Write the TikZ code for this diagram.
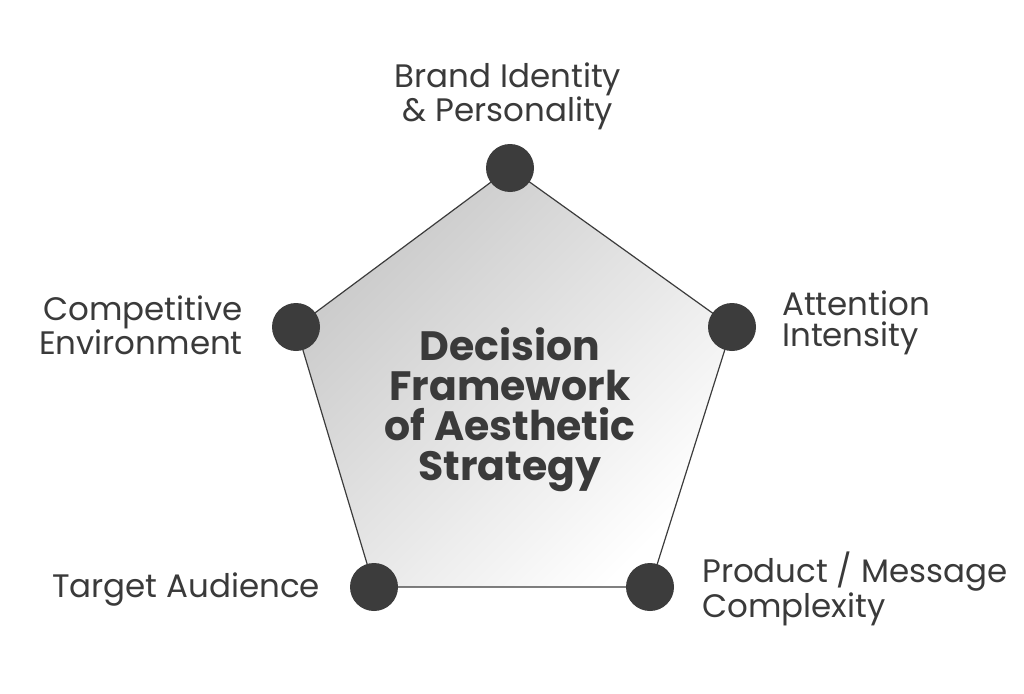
\documentclass[tikz,border=0pt]{standalone}
\usepackage{fontspec}
\setmainfont{Poppins}
\begin{document}
\begin{tikzpicture}[x=1pt,y=-1pt,
  vtx/.style={circle,fill=dotc,minimum size=48pt,inner sep=0pt},
  lbl/.style={text=txtc,font=\fontsize{32.5}{31}\selectfont,inner sep=0pt},
  ctr/.style={text=txtc,font=\fontsize{41}{40}\selectfont\bfseries,align=center,inner sep=0pt}]
\definecolor{dotc}{HTML}{3C3C3C}
\definecolor{txtc}{HTML}{3A3A3A}
\definecolor{shd}{HTML}{C8C8C8}
\useasboundingbox (0,0) rectangle (1024,693);
\fill[white] (0,0) rectangle (1024,693);
\coordinate (pa) at (510,168);
\coordinate (pb) at (732,327);
\coordinate (pc) at (650,587);
\coordinate (pd) at (374,587);
\coordinate (pe) at (296,327);
\path[left color=shd,right color=white,shading angle=45] (pa)--(pb)--(pc)--(pd)--(pe)--cycle;
\draw[dotc,line width=1.2pt] (pa)--(pb)--(pc)--(pd)--(pe)--cycle;
\node[vtx] (va) at (pa) {};
\node[vtx] (vb) at (pb) {};
\node[vtx] (vc) at (pc) {};
\node[vtx] (vd) at (pd) {};
\node[vtx] (ve) at (pe) {};
\node[ctr] (center) at (510,410) {Decision\\Framework\\of Aesthetic\\Strategy};
\node[lbl,align=center] (la) at (508,96) {Brand Identity\\\& Personality};
\node[lbl,align=right,anchor=east] (le) at (243,325) {Competitive\\Environment};
\node[lbl,align=left,anchor=west] (lb) at (782,323) {Attention\\Intensity};
\node[lbl,anchor=west] (ld) at (52,590) {Target Audience};
\node[lbl,align=left,anchor=west] (lc) at (702,589) {Product / Message\\Complexity};
\end{tikzpicture}
\end{document}
